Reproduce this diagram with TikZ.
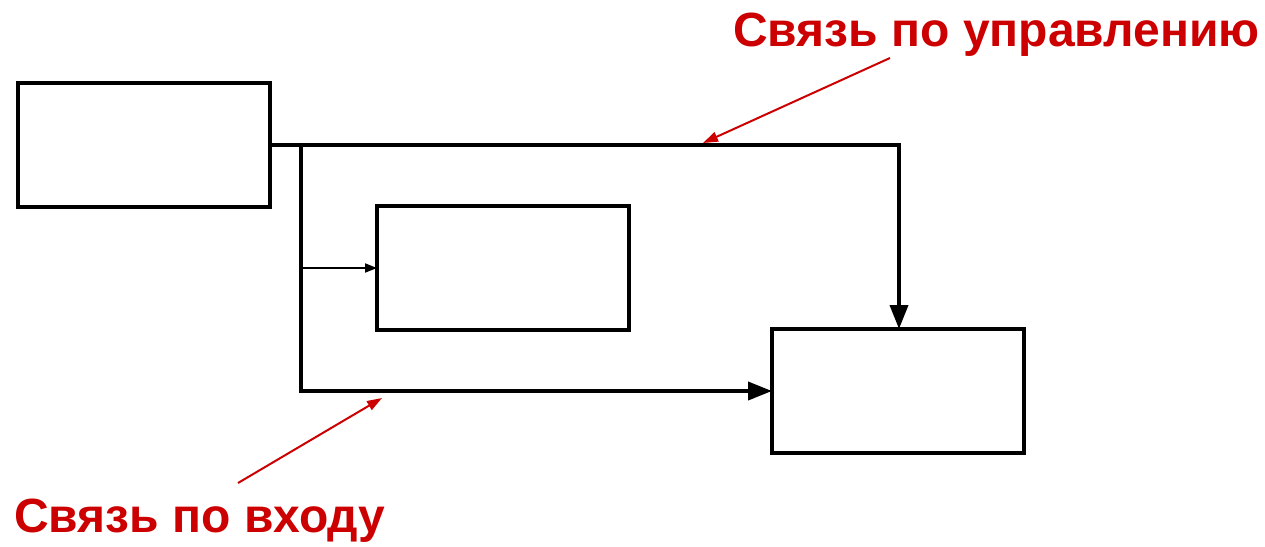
\documentclass[tikz,border=0pt]{standalone}
\usepackage{fontspec}
\setmainfont{Liberation Sans}
\usetikzlibrary{arrows.meta}
\definecolor{lblred}{RGB}{204,0,0}
\begin{document}
\begin{tikzpicture}[x=1pt,y=-1pt,
  blk/.style={draw,line width=3.8pt},
  conn/.style={line width=3.8pt,-{Triangle[length=24pt,width=18pt]}},
  thin/.style={line width=1.8pt,-{Triangle[length=12pt,width=9pt]}},
  redarr/.style={draw=lblred,line width=2pt,-{Triangle[length=15pt,width=10pt]}},
  lbl/.style={text=lblred,font=\bfseries\fontsize{48}{54}\selectfont,inner sep=0pt}]
\useasboundingbox (0,0) rectangle (1265,546);
\draw[blk] (18,83) rectangle (270,207);
\coordinate (A) at (270,145);
\draw[blk] (377,206) rectangle (629,330);
\coordinate (Bl) at (377,268);
\draw[blk] (772,329) rectangle (1024,453);
\coordinate (Ct) at (899,329);
\coordinate (Cl) at (772,391);
\coordinate (J) at (301,145);
\coordinate (J2) at (301,268);
\coordinate (Jb) at (301,391);
\coordinate (Tr) at (899,145);
\draw[conn] (A) -- (Tr) -- (Ct);
\draw[conn] (J) -- (Jb) -- (Cl);
\draw[thin] (J2) -- (Bl);
\node[lbl,anchor=base west] (t1) at (733,46) {Связь по управлению};
\node[lbl,anchor=base west] (t2) at (14,532) {Связь по входу};
\coordinate (r1s) at (890,58);
\coordinate (r1e) at (703,143);
\coordinate (r2s) at (238,483);
\coordinate (r2e) at (382,398);
\draw[redarr] (r1s) -- (r1e);
\draw[redarr] (r2s) -- (r2e);
\end{tikzpicture}
\end{document}
